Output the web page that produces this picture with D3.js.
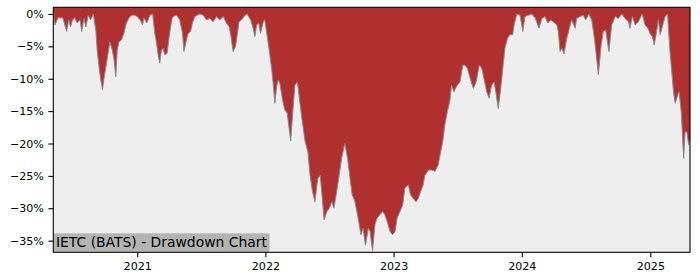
<!DOCTYPE html>
<html>
<head>
<meta charset="utf-8">
<script src="https://cdn.jsdelivr.net/npm/d3@7"></script>
<style>
  body { margin: 0; background: #fff; }
  svg { display: block; font-family: 'DejaVu Sans', sans-serif; }
</style>
</head>
<body>
<div id="chart"></div>
<script>
// drawdown readings, one date per value
const dates = [
  '2020-05-07','2020-05-12','2020-05-20','2020-06-03','2020-06-14','2020-06-20','2020-06-25','2020-07-01','2020-07-07','2020-07-14',
  '2020-07-22','2020-07-27','2020-08-02','2020-08-08','2020-08-14','2020-08-21','2020-08-29',
  '2020-09-05','2020-09-09','2020-09-15','2020-09-20','2020-09-24','2020-09-29','2020-10-04','2020-10-10','2020-10-15','2020-10-22',
  '2020-10-27','2020-11-01','2020-11-05','2020-11-10','2020-11-17','2020-11-24','2020-12-01','2020-12-11','2020-12-18','2020-12-25',
  '2021-01-01','2021-01-09','2021-01-16','2021-01-20','2021-01-28','2021-02-01','2021-02-06','2021-02-14','2021-02-20','2021-02-25',
  '2021-03-01','2021-03-06','2021-03-11','2021-03-16','2021-03-20','2021-03-27','2021-04-02','2021-04-09','2021-04-13','2021-04-23',
  '2021-05-02','2021-05-10','2021-05-14','2021-05-21','2021-05-26','2021-06-02','2021-06-07','2021-06-14','2021-06-28','2021-07-08',
  '2021-07-17','2021-07-27','2021-08-05','2021-08-15','2021-08-24','2021-09-03','2021-09-12','2021-09-20','2021-09-25','2021-10-01',
  '2021-10-08','2021-10-12','2021-10-18','2021-10-25','2021-11-04','2021-11-10','2021-11-20','2021-11-27','2021-12-02','2021-12-07',
  '2021-12-13','2021-12-18','2021-12-26','2021-12-30',
  '2022-01-04','2022-01-12','2022-01-19','2022-01-23','2022-01-28','2022-02-02','2022-02-06','2022-02-11','2022-02-19','2022-02-25',
  '2022-03-04','2022-03-10','2022-03-14','2022-03-20','2022-03-26','2022-04-02','2022-04-10','2022-04-16','2022-04-24','2022-05-02',
  '2022-05-08','2022-05-15','2022-05-22','2022-05-30','2022-06-06','2022-06-12','2022-06-17','2022-06-25','2022-07-02','2022-07-09',
  '2022-07-15','2022-07-23','2022-07-30','2022-08-06','2022-08-15','2022-08-23','2022-08-30','2022-09-05','2022-09-13','2022-09-22',
  '2022-09-30','2022-10-06','2022-10-13','2022-10-21','2022-10-26','2022-11-02','2022-11-09','2022-11-15','2022-11-23','2022-12-01',
  '2022-12-07','2022-12-14','2022-12-22','2022-12-29',
  '2023-01-05','2023-01-11','2023-01-19','2023-01-27','2023-02-02','2023-02-12','2023-02-18','2023-02-26','2023-03-06','2023-03-12',
  '2023-03-19','2023-03-26','2023-03-31','2023-04-10','2023-04-19','2023-04-29','2023-05-08','2023-05-15','2023-05-21','2023-05-27',
  '2023-06-03','2023-06-10','2023-06-15','2023-06-22','2023-07-01','2023-07-09','2023-07-17','2023-07-23','2023-07-30','2023-08-07',
  '2023-08-16','2023-08-24','2023-09-02','2023-09-09','2023-09-15','2023-09-23','2023-09-30','2023-10-07','2023-10-14','2023-10-19',
  '2023-10-26','2023-11-02','2023-11-09','2023-11-14','2023-11-21','2023-11-28','2023-12-06','2023-12-10','2023-12-18','2023-12-27',
  '2024-01-04','2024-01-10','2024-01-20','2024-01-29','2024-02-08','2024-02-19','2024-02-27','2024-03-07','2024-03-15','2024-03-24',
  '2024-04-03','2024-04-10','2024-04-14','2024-04-19','2024-04-25','2024-04-30','2024-05-08','2024-05-14','2024-05-22','2024-06-01',
  '2024-06-05','2024-06-15','2024-06-24','2024-07-01','2024-07-10','2024-07-18','2024-07-26','2024-08-01','2024-08-06','2024-08-14',
  '2024-08-20','2024-08-27','2024-09-05','2024-09-13','2024-09-23','2024-10-02','2024-10-12','2024-10-21','2024-10-31','2024-11-04',
  '2024-11-11','2024-11-19','2024-11-28','2024-12-09','2024-12-17','2024-12-25','2024-12-31',
  '2025-01-07','2025-01-12','2025-01-19','2025-01-24','2025-01-29','2025-02-04','2025-02-12','2025-02-19','2025-02-26','2025-03-03',
  '2025-03-08','2025-03-13','2025-03-20','2025-03-24','2025-03-30','2025-04-03','2025-04-06','2025-04-10','2025-04-15','2025-04-20',
  '2025-04-24'
];

const drawdown = [
  0, -1.7, -0.6, -0.6, -2.7, -0.9, -2.0, -0.9, -0.6, -1.4,
  -0.9, -2.7, -0.7, -2.0, -0.2, -0.9, 0,
  -2.5, -5.6, -8.6, -10.4, -11.7, -9.7, -8.1, -6.1, -4.3, -5.6,
  -7.1, -9.7, -5.6, -4.3, -4.0, -3.0, -1.4, -0.4, -0.2, -0.2,
  -0.4, -0.9, -1.7, -0.6, -1.4, -0.9, -0.2, 0, -3.0, -4.5,
  -6.1, -7.6, -5.6, -5.3, -6.3, -6.1, -3.5, -0.9, -0.4, -0.2,
  -0.9, -3.0, -5.8, -4.0, -3.0, -2.7, -1.4, -0.4, 0, -0.2,
  -0.9, -0.7, -1.2, -0.4, -0.9, -0.4, -1.4, -2.0, -3.5, -5.8,
  -5.0, -3.5, -1.2, -0.9, -0.2, 0, -0.9, -2.2, -3.5, -1.7,
  -1.4, -3.0, -1.2, -0.9,
  -2.7, -5.6, -8.6, -10.7, -13.8, -11.2, -10.2, -10.7, -13.3, -14.8,
  -15.3, -17.9, -19.6, -15.1, -11.0, -10.5, -14.0, -16.6, -19.7, -21.3,
  -24.9, -27.4, -29.0, -25.4, -24.9, -28.5, -31.8, -30.5, -30.0, -29.0,
  -30.0, -27.4, -24.9, -22.3, -20.0, -22.3, -25.4, -27.9, -29.0, -31.5,
  -34.1, -33.1, -35.7, -33.1, -33.6, -36.6, -32.5, -31.5, -31.0, -30.5,
  -31.0, -32.1, -33.6, -34.1,
  -33.6, -31.5, -30.5, -29.5, -26.9, -26.4, -27.9, -28.5, -29.0, -28.5,
  -27.4, -26.4, -24.9, -24.1, -24.1, -24.3, -23.3, -21.3, -19.7, -17.1,
  -15.1, -13.5, -11.0, -12.0, -11.0, -10.5, -7.9, -7.9, -8.4, -9.9,
  -11.5, -10.5, -7.9, -8.4, -9.9, -12.0, -13.0, -11.0, -10.5, -12.0,
  -14.6, -11.5, -7.9, -5.3, -3.8, -3.2, -3.2, -1.7, 0, -0.2,
  -2.7, -0.4, -0.2, 0, -0.6, -2.2, -0.7, -0.4, -1.4, -0.9,
  -1.4, -1.7, -2.7, -5.8, -5.3, -6.2, -3.8, -2.5, -0.9, -2.2,
  -0.7, -0.4, -0.2, -0.9, 0, -0.9, -3.8, -6.8, -9.4, -4.8,
  -2.7, -2.5, -5.8, -1.7, -0.4, -0.7, 0, -0.7, -1.2, -2.2,
  -0.4, -1.7, -1.2, 0, -1.7, -2.2, -3.0,
  -3.5, -4.8, -2.7, -0.9, -3.2, -2.0, -0.4, 0, -5.8, -8.9,
  -12.0, -13.8, -12.5, -12.0, -15.1, -19.2, -22.3, -18.2, -18.2, -20.2,
  -19.5
];

const yTicks = [0, -5, -10, -15, -20, -25, -30, -35];
const xTicks = ['2021-01-01', '2022-01-01', '2023-01-01', '2024-01-01', '2025-01-01'];
const title = 'IETC (BATS) - Drawdown Chart';

// style configs
const width = 700;
const height = 280;
const margin = { top: 7.3, right: 10, bottom: 27.7, left: 53.3 };
const colors = { fill: '#b03030', line: '#8a8a8a', bg: '#eeeeee', label: '#b4b4b4' };

const parse = d3.timeParse('%Y-%m-%d');
const data = dates.map((d, i) => ({ date: parse(d), v: drawdown[i] }));

const x = d3.scaleTime()
  .domain([parse('2020-05-07'), parse('2025-04-24')])
  .range([margin.left, width - margin.right]);

const y = d3.scaleLinear()
  .domain([-36.8, 1.03])
  .range([height - margin.bottom, margin.top]);

const svg = d3.select('#chart').append('svg')
  .attr('width', width)
  .attr('height', height);

svg.append('defs').append('clipPath')
  .attr('id', 'plot')
  .append('rect')
  .attr('x', margin.left)
  .attr('y', margin.top)
  .attr('width', width - margin.left - margin.right)
  .attr('height', height - margin.top - margin.bottom);

svg.append('rect')
  .attr('x', margin.left)
  .attr('y', margin.top)
  .attr('width', width - margin.left - margin.right)
  .attr('height', height - margin.top - margin.bottom)
  .attr('fill', colors.bg);

const plot = svg.append('g').attr('clip-path', 'url(#plot)');

// red fills from the curve up to the top of the axes
const area = d3.area()
  .x(d => x(d.date))
  .y0(margin.top)
  .y1(d => y(d.v));

plot.append('path')
  .datum(data)
  .attr('d', area)
  .attr('fill', colors.fill);

plot.append('path')
  .datum(data)
  .attr('d', d3.line().x(d => x(d.date)).y(d => y(d.v)))
  .attr('fill', 'none')
  .attr('stroke', colors.line)
  .attr('stroke-width', 1);

// title box, bottom left
const label = svg.append('g');
const labelText = label.append('text')
  .attr('x', margin.left + 2.7)
  .attr('y', 247.3)
  .attr('font-size', 13.9)
  .attr('fill', '#000')
  .text(title);
const bb = labelText.node().getBBox();
label.insert('rect', 'text')
  .attr('x', margin.left + 0.7)
  .attr('y', 233.3)
  .attr('width', bb.width + 4)
  .attr('height', 18.4)
  .attr('fill', colors.label);

// axes
const fmt = v => (v < 0 ? '\u2212' + Math.abs(v) : v) + '%';

svg.append('g')
  .attr('transform', `translate(${margin.left},0)`)
  .call(d3.axisLeft(y).tickValues(yTicks).tickFormat(fmt).tickSize(4.9).tickPadding(4.5))
  .call(g => g.select('.domain').remove())
  .call(g => g.selectAll('text').attr('font-size', 11.1).attr('font-family', 'DejaVu Sans').attr('fill', '#000'))
  .call(g => g.selectAll('line').attr('stroke', '#000').attr('stroke-width', 1.1));

svg.append('g')
  .attr('transform', `translate(0,${height - margin.bottom})`)
  .call(d3.axisBottom(x).tickValues(xTicks.map(parse)).tickFormat(d3.timeFormat('%Y')).tickSize(4.9).tickPadding(4.5))
  .call(g => g.select('.domain').remove())
  .call(g => g.selectAll('text').attr('font-size', 11.1).attr('font-family', 'DejaVu Sans').attr('fill', '#000'))
  .call(g => g.selectAll('line').attr('stroke', '#000').attr('stroke-width', 1.1));

// spines
svg.append('rect')
  .attr('x', margin.left)
  .attr('y', margin.top)
  .attr('width', width - margin.left - margin.right)
  .attr('height', height - margin.top - margin.bottom)
  .attr('fill', 'none')
  .attr('stroke', '#000')
  .attr('stroke-width', 1.1);
</script>
</body>
</html>
